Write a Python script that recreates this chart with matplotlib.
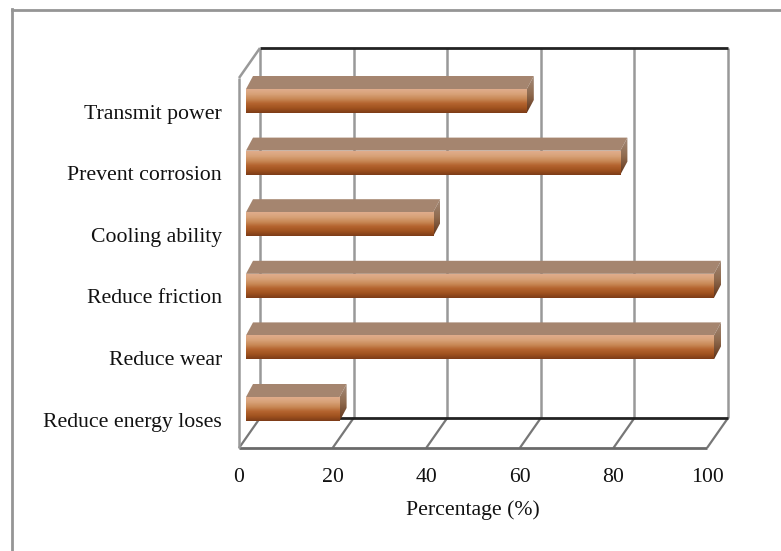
import numpy as np
import matplotlib
matplotlib.use('Agg')
import matplotlib.pyplot as plt
from matplotlib.colors import LinearSegmentedColormap
from matplotlib.lines import Line2D
from matplotlib.patches import Polygon

categories = ['Reduce energy loses', 'Reduce wear', 'Reduce friction',
              'Cooling ability', 'Prevent corrosion', 'Transmit power']
values = [20, 100, 100, 40, 80, 60]
x_ticks = [0, 20, 40, 60, 80, 100]

W, H = 781, 551
# depth of the 3d box, in pixels
depth_x, depth_y = 21, 30
px_per_pct = 4.68
px_per_cat = 61.6

plt.rcParams['font.family'] = 'Liberation Serif'
fig = plt.figure(figsize=(W / 100, H / 100), dpi=100)
ax = fig.add_axes([239 / W, (H - 448) / H, 488 / W, 400 / H])
ax.set_xlim(0, 488 / px_per_pct)
ax.set_ylim(-39 / px_per_cat, 361 / px_per_cat)
ax.axis('off')

dx = depth_x / px_per_pct
dy = depth_y / px_per_cat
ymin, ymax = ax.get_ylim()
grid = '#999999'


def edge(xs, ys, color=grid, lw=1.8, z=1):
    ax.plot(xs, ys, color=color, lw=lw, clip_on=False, zorder=z, solid_capstyle='butt')


# outer frame, only top and left are inside the picture
fig.add_artist(Line2D([11.5 / W, 1], [1 - 9.5 / H, 1 - 9.5 / H], color='#959595', lw=2))
fig.add_artist(Line2D([11.5 / W, 11.5 / W], [0, 1 - 8.5 / H], color='#959595', lw=2))

# walls and floor
for t in x_ticks:
    edge([t + dx, t + dx], [ymin + dy, ymax])
    edge([t, t + dx], [ymin, ymin + dy], color='#777777', lw=1.6)
edge([dx, 100 + dx], [ymax, ymax], color='#222222', lw=2, z=2)
edge([dx, 100 + dx], [ymin + dy, ymin + dy], color='#222222', lw=2, z=2)
edge([0, 100], [ymin, ymin], color='#6a6a6a', lw=2, z=2)
edge([0, 0], [ymin, ymax - dy], z=2)
edge([0, dx], [ymax - dy, ymax], z=2)

# bars
front_cmap = LinearSegmentedColormap.from_list(
    'front', ['#e0ac8c', '#d8a278', '#c98a58', '#b4642f', '#a0521f', '#7d3c18'])
side_cmap = LinearSegmentedColormap.from_list('side', ['#a38a78', '#8f6a4e', '#5e3218'])
grad = np.linspace(0, 1, 64).reshape(-1, 1)
off_x = 7 / px_per_pct
off_y = 13 / px_per_cat
half = 12 / px_per_cat
for i, v in enumerate(values):
    x0, x1 = off_x, v + off_x
    y0, y1 = i - half, i + half
    ax.add_patch(Polygon([[x0, y1], [x1, y1], [x1 + off_x, y1 + off_y], [x0 + off_x, y1 + off_y]],
                         facecolor='#a5856f', edgecolor='none', zorder=4))
    ax.imshow(grad, cmap=front_cmap, extent=[x0, x1, y0, y1], aspect='auto', zorder=5)
    im = ax.imshow(grad, cmap=side_cmap, extent=[x1, x1 + off_x, y0, y1 + off_y], aspect='auto', zorder=4)
    im.set_clip_path(Polygon([[x1, y0], [x1, y1], [x1 + off_x, y1 + off_y], [x1 + off_x, y0 + off_y]],
                             transform=ax.transData))
    ax.annotate(categories[i], xy=(0, i), xytext=(-17 * 0.72, -13 * 0.72),
                textcoords='offset points', ha='right', va='center',
                fontsize=15.7, color='#111111', annotation_clip=False)

ax.set_xlim(0, 488 / px_per_pct)
ax.set_ylim(-39 / px_per_cat, 361 / px_per_cat)

for t in x_ticks:
    ax.annotate(str(t), xy=(t, ymin), xytext=(0, -30 * 0.72), textcoords='offset points',
                ha='center', va='center', fontsize=15.7, color='#111111', annotation_clip=False)
fig.text(473 / W, 1 - 510 / H, 'Percentage (%)', ha='center', va='center', fontsize=15.7, color='#111111')

fig.savefig('out.png', dpi=100)
